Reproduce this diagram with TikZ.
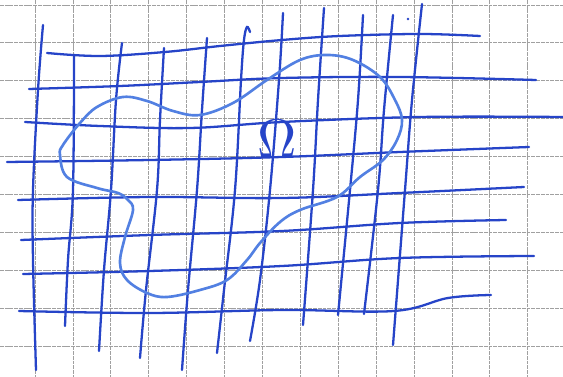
\documentclass[tikz,border=0pt]{standalone}
\usepackage{xcolor}
\usetikzlibrary{arrows.meta, positioning}
\definecolor{ink}{RGB}{38,68,200}
\definecolor{inklight}{RGB}{82,128,226}
\definecolor{paper}{RGB}{160,160,160}

\begin{document}
\begin{tikzpicture}[x=0.02cm, y=-0.02cm,
  paperline/.style={paper, line width=0.45pt, dash pattern=on 2.2pt off 0.5pt},
  penline/.style={ink, line width=1.3pt, line cap=round, smooth, tension=0.6},
  boundary/.style={inklight, line width=1.5pt, smooth cycle, tension=0.6}]
  \useasboundingbox[fill=white] (0,0) rectangle (563,377);
  \foreach \k in {0,...,13}
    \draw[paperline] ({35+37.9*\k},0) -- ({35+37.9*\k},377);
  \foreach \k in {0,...,9}
    \draw[paperline] (0,{5+37.9*\k}) -- (563,{5+37.9*\k});

  \draw[penline] plot coordinates {(43,25) (38,90) (33,190) (33,260) (36,370)};
  \draw[penline] plot coordinates {(74,55) (73,190) (68,260) (65,326)};
  \draw[penline] plot coordinates {(122,43) (116,100) (111,190) (104,270) (99,351)};
  \draw[penline] plot coordinates {(164,48) (160,120) (157,190) (146,290) (140,358)};
  \draw[penline] plot coordinates {(207,38) (202,110) (197,190) (188,290) (182,370)};
  \draw[penline] plot coordinates {(250,32) (247,27) (244,40) (241,80) (235,190) (224,290) (217,353)};
  \draw[penline] plot coordinates {(283,13) (279,80) (270,190) (260,280) (250,341)};
  \draw[penline] plot coordinates {(324,8) (318,100) (313,190) (303,325)};
  \draw[penline] plot coordinates {(363,15) (358,100) (350,190) (338,315)};
  \draw[penline] plot coordinates {(393,15) (384,110) (378,190) (364,314)};
  \draw[penline] plot coordinates {(422,4) (412,100) (405,190) (393,345)};
  \fill[ink] (408,19) circle (1.3);

  \draw[penline] plot coordinates {(47,53) (100,56) (165,52) (220,46) (282,40) (340,36) (420,34) (480,36)};
  \draw[penline] plot coordinates {(29,89) (120,86) (200,82) (282,78) (400,77) (536,80)};
  \draw[penline] plot coordinates {(25,122) (100,126) (190,128) (282,122) (420,117) (563,117)};
  \draw[penline] plot coordinates {(7,162) (150,160) (282,157) (400,152) (529,147)};
  \draw[penline] plot coordinates {(18,200) (150,197) (282,198) (400,193) (524,187)};
  \draw[penline] plot coordinates {(21,240) (150,235) (282,231) (400,223) (506,220)};
  \draw[penline] plot coordinates {(23,274) (150,271) (282,266) (400,258) (534,256)};
  \draw[penline] plot coordinates {(19,311) (150,313) (282,310) (394,311) (448,298) (491,295)};

  \draw[boundary] plot coordinates {(60,155) (63,145) (80,123) (97,107) (123,97) (147,101)
    (173,111) (200,115) (233,103) (267,80) (300,60) (327,55) (353,60) (380,77) (395,100)
    (402,120) (397,140) (383,160) (360,177) (337,197) (300,210) (280,222) (260,243)
    (247,260) (227,280) (200,290) (167,297) (147,293) (127,280) (120,263) (125,237)
    (133,210) (128,200) (118,193) (97,188) (67,177)};

  \node[ink, scale=3.1] (omega) at (277,139) {$\Omega$};
\end{tikzpicture}
\end{document}
